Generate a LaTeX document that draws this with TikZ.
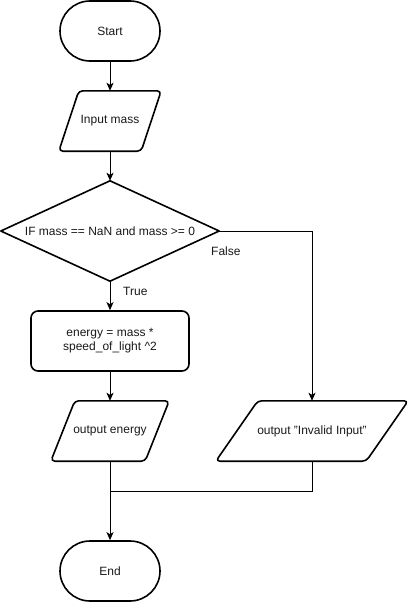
\documentclass[tikz,border=0pt]{standalone}
\usepackage{fontspec}
\setmainfont{Liberation Sans}
\usetikzlibrary{arrows.meta}
\begin{document}
\begin{tikzpicture}[x=1pt,y=-1pt,
  every node/.style={font=\fontsize{12}{14}\selectfont, text=black!90},
  box/.style={draw=none, rectangle, inner sep=0pt, align=center},
  shapeline/.style={draw=black, line width=1.6pt, line join=round},
  term/.style={box, shapeline, rounded corners=30pt, minimum width=100pt, minimum height=60pt},
  proc/.style={box, shapeline, rounded corners=7pt, minimum height=60pt},
  conn/.style={draw=black, line width=1pt, -{Stealth[length=8pt,width=7pt,inset=2pt]}},
  plain/.style={draw=black, line width=1pt},
  lbl/.style={anchor=west, inner sep=0pt}
]
\useasboundingbox (0,0) rectangle (408,602);

% nodes
\node[term] (start) at (110,31) {Start};
\node[box, minimum width=102pt, minimum height=60pt] (in) at (110,121) {Input mass};
\draw[shapeline, rounded corners=4pt] ([xshift=20pt]in.north west) -- (in.north east) -- ([xshift=-20pt]in.south east) -- (in.south west) -- cycle;
\node[box, minimum width=218pt, minimum height=100pt] (dec) at (110,231) {IF mass == NaN and mass >= 0};
\draw[shapeline] (dec.north) -- (dec.east) -- (dec.south) -- (dec.west) -- cycle;
\node[proc, minimum width=158pt] (calc) at (110,341) {energy = mass *\\speed\_of\_light \^{}2};
\node[box, minimum width=118pt, minimum height=60pt] (oute) at (110,431) {output energy};
\draw[shapeline, rounded corners=4pt] ([xshift=24pt]oute.north west) -- (oute.north east) -- ([xshift=-24pt]oute.south east) -- (oute.south west) -- cycle;
\node[box, minimum width=192pt, minimum height=60pt] (inv) at (312,431) {output "Invalid Input"};
\draw[shapeline, rounded corners=4pt] ([xshift=42pt]inv.north west) -- (inv.north east) -- ([xshift=-42pt]inv.south east) -- (inv.south west) -- cycle;
\node[term] (end) at (110,571) {End};

\coordinate (fcorner) at (312,231);
\coordinate (merge) at (110,491);

% connectors
\draw[conn] (start.south) -- (in.north);
\draw[conn] (in.south) -- (dec.north);
\draw[conn] (dec.south) -- (calc.north);
\draw[conn] (dec.east) -- (fcorner) -- (inv.north);
\draw[conn] (calc.south) -- (oute.north);
\draw[conn] (oute.south) -- (end.north);
\draw[plain] (inv.south) |- (merge);

% labels
\node[lbl] (ltrue) at (123,291) {True};
\node[lbl] (lfalse) at (211,251) {False};
\end{tikzpicture}
\end{document}
